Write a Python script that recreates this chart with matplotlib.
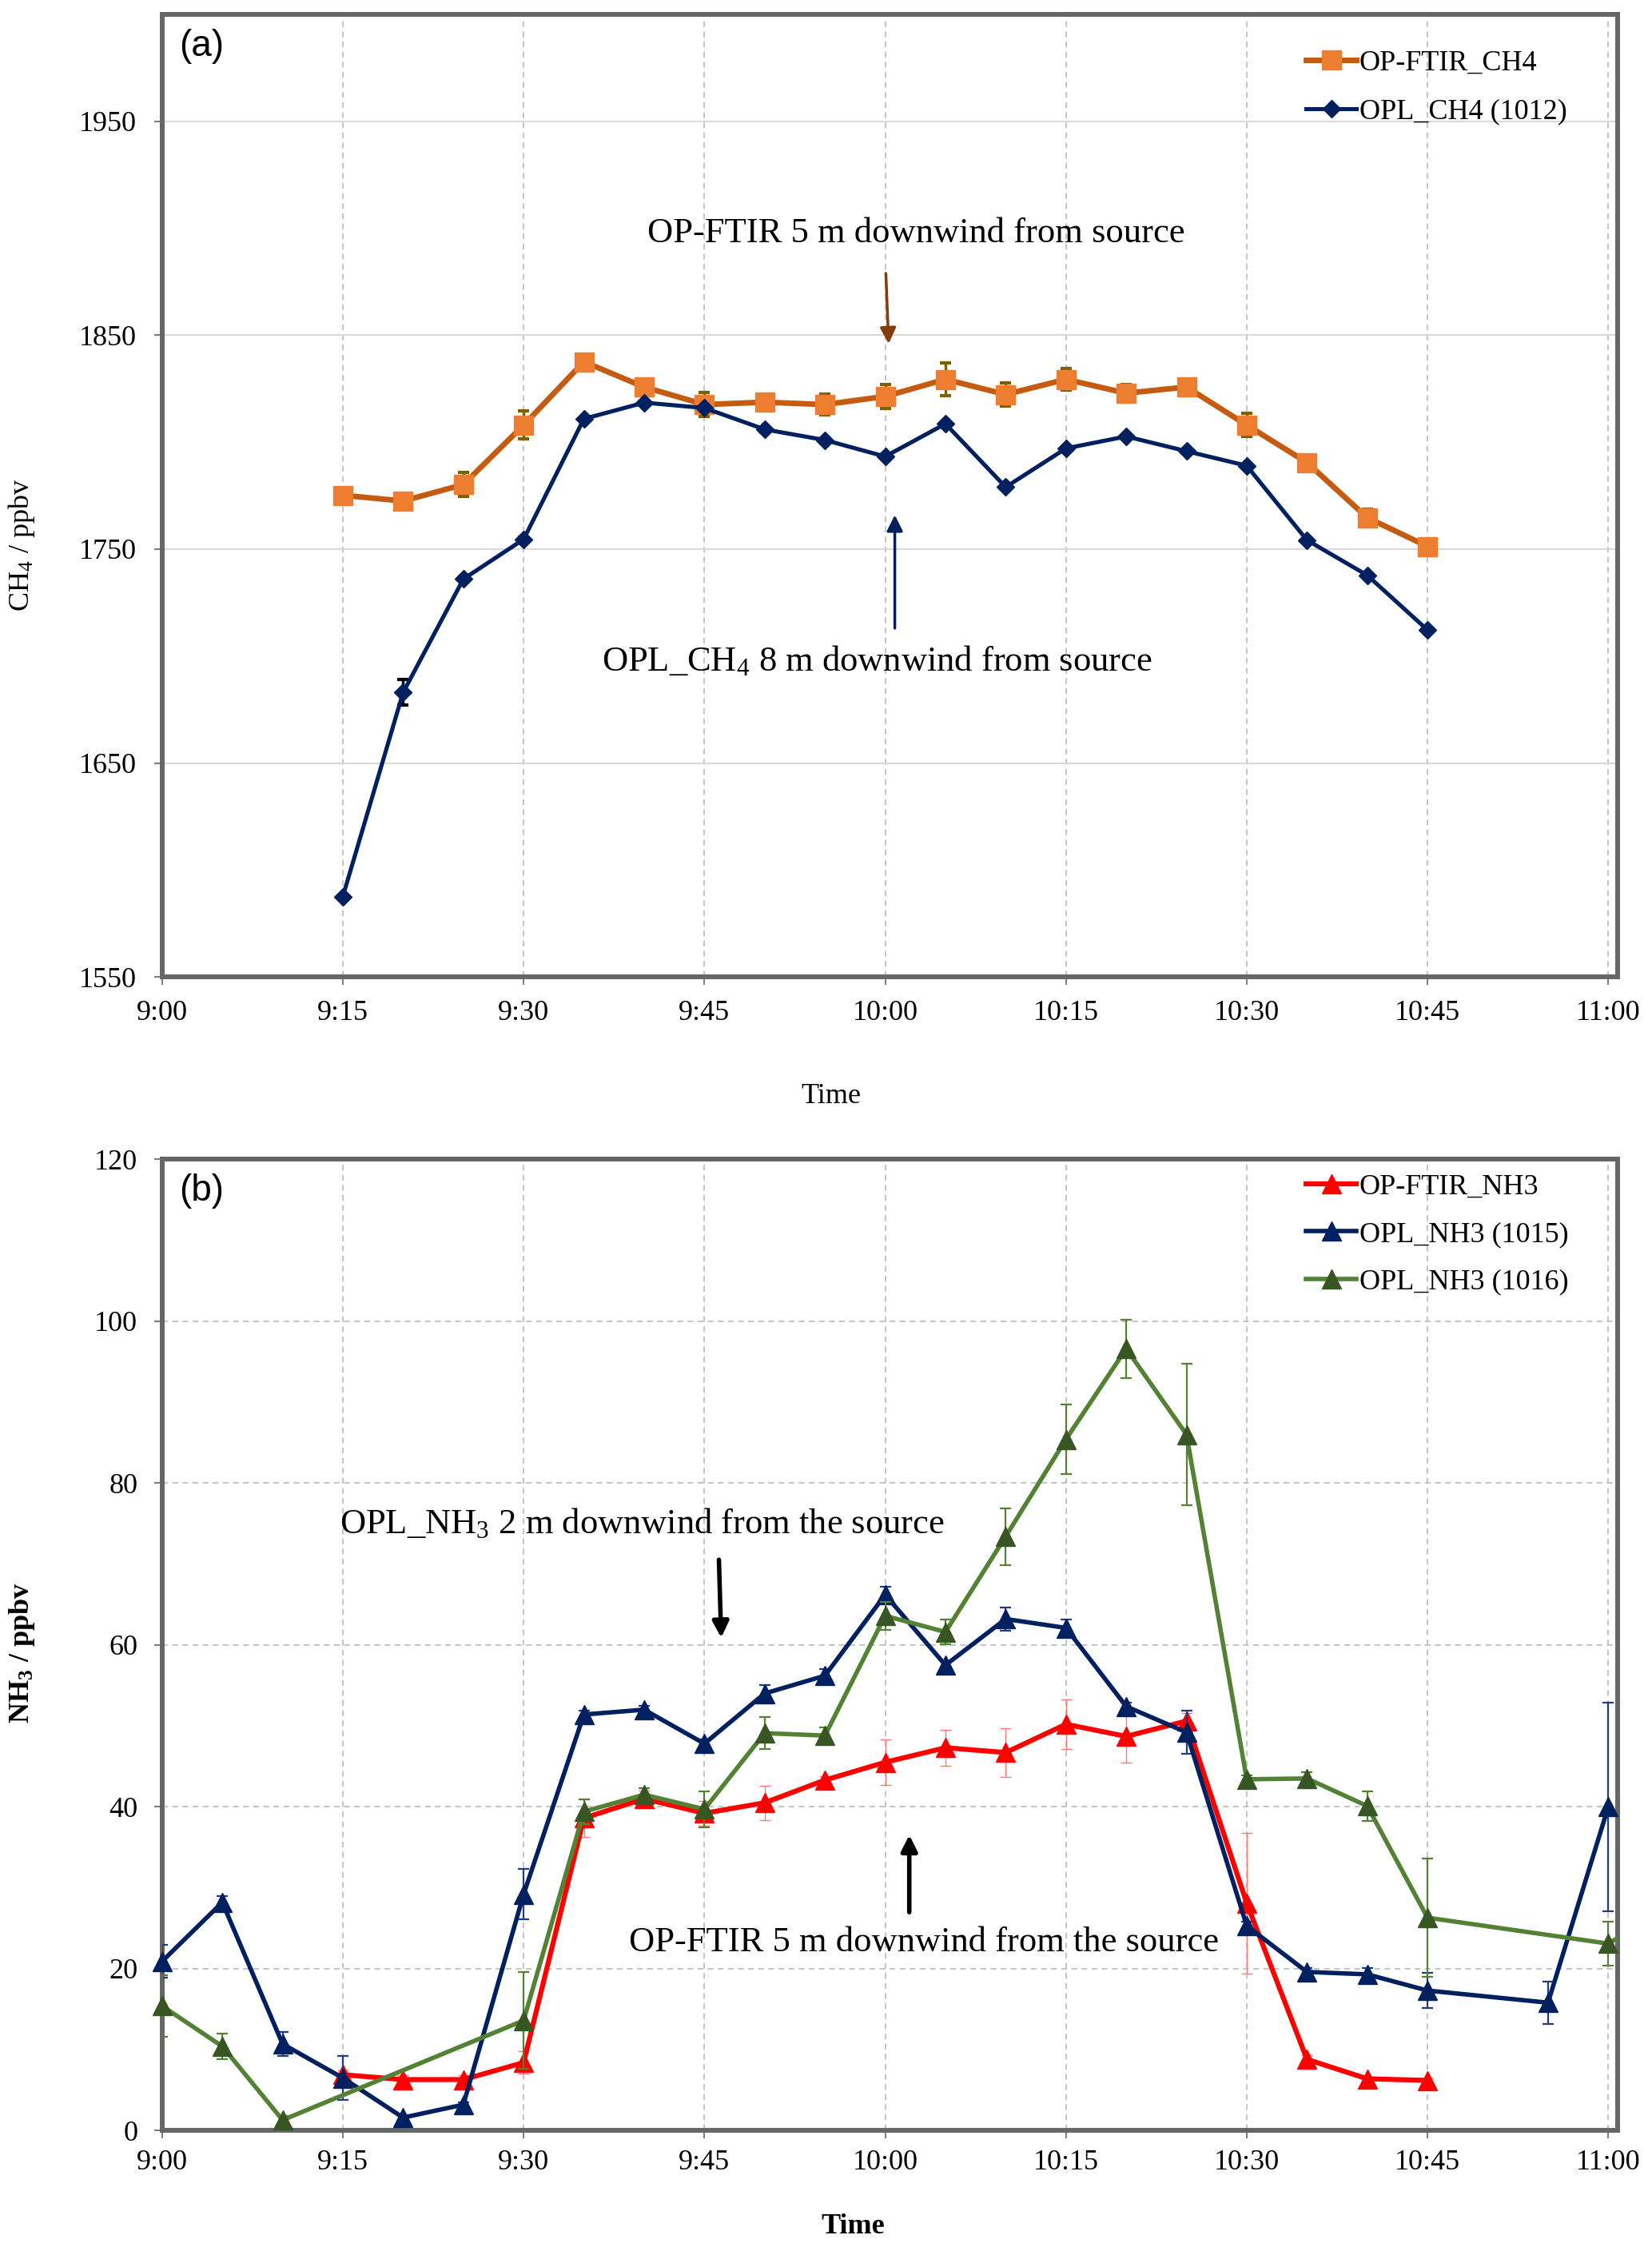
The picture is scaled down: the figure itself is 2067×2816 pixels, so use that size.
import matplotlib
matplotlib.use("Agg")
import matplotlib.pyplot as plt

plt.rcParams['font.family'] = ['Liberation Serif', 'DejaVu Serif']
plt.rcParams['mathtext.fontset'] = 'custom'
plt.rcParams['mathtext.rm'] = 'Liberation Serif'
plt.rcParams['mathtext.it'] = 'Liberation Serif:italic'
plt.rcParams['mathtext.bf'] = 'Liberation Serif:bold'

# ---------------- data: panel (a) CH4 ----------------
ch4_times = ["9:15", "9:20", "9:25", "9:30", "9:35", "9:40", "9:45", "9:50", "9:55", "10:00",
             "10:05", "10:10", "10:15", "10:20", "10:25", "10:30", "10:35", "10:40", "10:45"]
ftir_ch4 = [1775.2, 1772.5, 1780.2, 1808.0, 1837.6, 1825.8, 1817.6, 1818.7, 1817.6, 1821.4,
            1829.4, 1822.3, 1829.4, 1822.9, 1825.8, 1808.0, 1790.5, 1764.7, 1751.3]
ftir_ch4_err = [0, 0, 5.5, 6.5, 0, 0, 5.5, 3, 5, 5.5, 7.5, 5.5, 5, 4, 0, 5.5, 3, 4, 0]
opl_ch4 = [1587.6, 1683.0, 1736.0, 1754.6, 1810.9, 1818.5, 1816.0, 1806.0, 1801.0, 1793.3,
           1808.6, 1779.0, 1797.1, 1802.7, 1795.8, 1789.0, 1754.2, 1737.8, 1712.2]
opl_ch4_err = [0, 6, 1, 1, 0, 0, 0, 0, 0, 0, 0, 0, 0, 0, 0, 0, 0, 0, 0]

# ---------------- data: panel (b) NH3 ----------------
ftir_nh3_times = ["9:15", "9:20", "9:25", "9:30", "9:35", "9:40", "9:45", "9:50", "9:55", "10:00",
                  "10:05", "10:10", "10:15", "10:20", "10:25", "10:30", "10:35", "10:40", "10:45"]
ftir_nh3 = [6.9, 6.3, 6.3, 8.4, 38.6, 41.0, 39.2, 40.5, 43.3, 45.5,
            47.3, 46.7, 50.2, 48.7, 50.6, 28.1, 8.8, 6.4, 6.2]
ftir_nh3_err = [0.5, 0.5, 0.5, 1.4, 2.3, 1.0, 1.5, 2.1, 0.5, 2.8,
                2.2, 3.0, 3.1, 3.2, 1.0, 8.7, 0.5, 0.3, 0.3]

opl1015_times = ["9:00", "9:05", "9:10", "9:15", "9:20", "9:25", "9:30", "9:35", "9:40", "9:45",
                 "9:50", "9:55", "10:00", "10:05", "10:10", "10:15", "10:20", "10:25", "10:30",
                 "10:35", "10:40", "10:45", "10:55", "11:00"]
opl1015 = [20.9, 28.2, 10.7, 6.5, 1.6, 3.2, 29.2, 51.4, 52.0, 47.8,
           54.0, 56.2, 66.2, 57.5, 63.2, 62.1, 52.4, 49.2, 25.3,
           19.6, 19.3, 17.3, 15.8, 40.0]
opl1015_err = [2.0, 0.8, 1.5, 2.7, 0.3, 0.3, 3.1, 0.5, 0.5, 0.5,
               1.0, 0.8, 1.0, 0.5, 1.4, 1.0, 0.5, 2.7, 0.5,
               0.5, 0.8, 2.2, 2.6, 12.9]

opl1016_times = ["9:00", "9:05", "9:10", "9:30", "9:35", "9:40", "9:45", "9:50", "9:55", "10:00",
                 "10:05", "10:10", "10:15", "10:20", "10:25", "10:30", "10:35", "10:40", "10:45",
                 "11:00", "11:05"]
opl1016 = [15.4, 10.4, 1.3, 13.6, 39.4, 41.5, 39.7, 49.1, 48.8, 63.6,
           61.6, 73.4, 85.4, 96.6, 86.0, 43.4, 43.5, 40.1, 26.3,
           23.1, 27.5]
opl1016_err = [3.8, 1.6, 0.5, 6.0, 1.5, 0.8, 2.2, 2.0, 1.0, 1.7,
               1.5, 3.5, 4.3, 3.6, 8.7, 0.5, 0.8, 1.8, 7.3,
               2.7, 0.0]

tick_labels = ["9:00", "9:15", "9:30", "9:45", "10:00", "10:15", "10:30", "10:45", "11:00"]
ch4_yticks = [1550, 1650, 1750, 1850, 1950]
nh3_yticks = [0, 20, 40, 60, 80, 100, 120]


def tmin(s):
    h, m = s.split(":")
    return (int(h) - 9) * 60 + int(m)


fig = plt.figure(figsize=(20.67, 28.16), dpi=100)
ax1 = fig.add_axes([0.0981, 0.566, 0.8809, 0.4276])
ax2 = fig.add_axes([0.0981, 0.0535, 0.8809, 0.4315])

FRAME = '#666666'
for ax in (ax1, ax2):
    for sp in ax.spines.values():
        sp.set_color(FRAME)
        sp.set_linewidth(4.3)
    ax.set_axisbelow(True)
    ax.set_xlim(0, 120.75)
    ax.set_xticks([tmin(t) for t in tick_labels])
    ax.set_xticklabels(tick_labels)
    ax.tick_params(axis='both', direction='out', length=7, width=1.5, color='#7f7f7f',
                   labelsize=26)

# ---------------- panel (a) ----------------
ax1.set_ylim(1550, 2000)
ax1.set_yticks(ch4_yticks)
ax1.yaxis.grid(True, color='#D9D9D9', lw=1.5, ls='-')
ax1.xaxis.grid(True, color='#BFBFBF', lw=1.3, ls=(0, (4, 3)))
ax1.tick_params(axis='y', pad=16)
ax1.tick_params(axis='x', pad=14)

t_ch4 = [tmin(t) for t in ch4_times]
ax1.errorbar(t_ch4, ftir_ch4, yerr=ftir_ch4_err, fmt='none',
             ecolor='#7F6000', elinewidth=2.5, capsize=5, capthick=3, zorder=3)
ax1.plot(t_ch4, ftir_ch4, color='#C55A11', lw=5,
         marker='s', markersize=17, markerfacecolor='#ED7D31', markeredgecolor='#ED7D31',
         label='OP-FTIR_CH4', zorder=3.5)
ax1.errorbar(t_ch4, opl_ch4, yerr=opl_ch4_err, fmt='none',
             ecolor='black', elinewidth=2.5, capsize=5, capthick=3, zorder=4)
ax1.plot(t_ch4, opl_ch4, color='#002060', lw=3.7,
         marker='D', markersize=11.5, markerfacecolor='#002060', markeredgecolor='#002060',
         label='OPL_CH4 (1012)', zorder=4.5)

ax1.set_ylabel(r'CH$_4$ / ppbv', fontsize=26)
ax1.yaxis.set_label_coords(-0.086, 0.449)
ax1.set_xlabel('Time', fontsize=26)
ax1.xaxis.set_label_coords(0.46, -0.11)

ax1.text(0.012, 0.985, '(a)', transform=ax1.transAxes, fontsize=33,
         family=['Liberation Sans', 'DejaVu Sans'], ha='left', va='top')

ax1.annotate('', xy=(60.3, 1845), xytext=(60.05, 1880),
             arrowprops=dict(arrowstyle='-|>', color='#843C0C', lw=2.5, mutation_scale=30))
ax1.text(62.6, 1897.7, 'OP-FTIR 5 m downwind from source', fontsize=32,
         ha='center', va='center')
ax1.annotate('', xy=(60.8, 1767), xytext=(60.8, 1712),
             arrowprops=dict(arrowstyle='-|>', color='#002060', lw=2.5, mutation_scale=30))
ax1.text(59.3, 1697.7, r'OPL_CH$_4$ 8 m downwind from source', fontsize=32,
         ha='center', va='center')

leg1 = ax1.legend(loc='upper left', bbox_to_anchor=(0.786, 0.963), frameon=False,
                  fontsize=26, handlelength=1.75, handletextpad=0.1, labelspacing=0.75,
                  borderpad=0, borderaxespad=0)

# ---------------- panel (b) ----------------
ax2.set_ylim(0, 120)
ax2.set_yticks(nh3_yticks)
ax2.grid(True, color='#BFBFBF', lw=1.3, ls=(0, (4, 3)))
ax2.tick_params(axis='y', pad=15)
ax2.tick_params(axis='x', pad=10)

series = [
    (ftir_nh3_times, ftir_nh3, ftir_nh3_err, '#FF0000', '#FF0000', '#FF7777', 1.0, 4.5, 'OP-FTIR_NH3', 3),
    (opl1015_times, opl1015, opl1015_err, '#002060', '#002060', '#1F3C88', 1.6, 4.0, 'OPL_NH3 (1015)', 4),
    (opl1016_times, opl1016, opl1016_err, '#548235', '#375623', '#548235', 1.6, 4.0, 'OPL_NH3 (1016)', 5),
]
for times, vals, errs, lc, mc, ec, elw, lw, lab, z in series:
    tt = [tmin(t) for t in times]
    ax2.errorbar(tt, vals, yerr=errs, fmt='none', ecolor=ec, elinewidth=elw,
                 capsize=5, capthick=elw, zorder=z)
    ax2.plot(tt, vals, color=lc, lw=lw, zorder=z)
    vis = [i for i, t in enumerate(tt) if t <= 120]
    ax2.plot([tt[i] for i in vis], [vals[i] for i in vis], ls='none', marker='^',
             markersize=17, markerfacecolor=mc, markeredgecolor=mc, clip_on=False, zorder=z + 0.5)
    ax2.plot([], [], color=lc, lw=lw, marker='^', markersize=17, markerfacecolor=mc,
             markeredgecolor=mc, label=lab)

ax2.set_ylabel(r'NH$_\mathbf{3}$ / ppbv', fontsize=26, fontweight='bold')
ax2.yaxis.set_label_coords(-0.086, 0.492)
ax2.set_xlabel('Time', fontsize=26, fontweight='bold')
ax2.xaxis.set_label_coords(0.475, -0.085)

ax2.text(0.012, 0.985, '(b)', transform=ax2.transAxes, fontsize=33,
         family=['Liberation Sans', 'DejaVu Sans'], ha='left', va='top')

ax2.annotate('', xy=(46.4, 60.6), xytext=(46.2, 70.8),
             arrowprops=dict(arrowstyle='-|>', color='black', lw=4, mutation_scale=30))
ax2.text(39.8, 75.0, r'OPL_NH$_3$ 2 m downwind from the source', fontsize=32,
         ha='center', va='center')
ax2.annotate('', xy=(62.0, 36.8), xytext=(62.0, 26.7),
             arrowprops=dict(arrowstyle='-|>', color='black', lw=4, mutation_scale=30))
ax2.text(63.2, 23.2, 'OP-FTIR 5 m downwind from the source', fontsize=32,
         ha='center', va='center')

leg2 = ax2.legend(loc='upper left', bbox_to_anchor=(0.786, 0.985), frameon=False,
                  fontsize=26, handlelength=1.75, handletextpad=0.1, labelspacing=0.72,
                  borderpad=0, borderaxespad=0)

fig.savefig('out.png', dpi=100, facecolor='white')
